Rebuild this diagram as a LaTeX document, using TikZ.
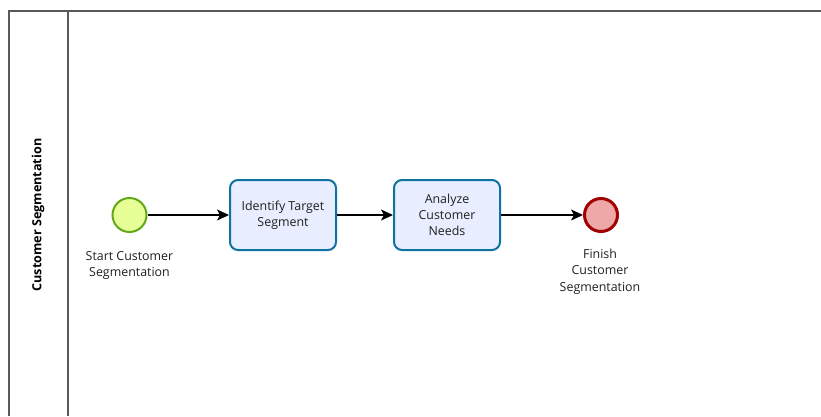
\documentclass[tikz,border=0pt]{standalone}
\usepackage{fontspec}
\setmainfont{Open Sans}
\usetikzlibrary{arrows.meta}
\definecolor{poolline}{HTML}{5A5A5A}
\definecolor{startfill}{HTML}{E6FF97}
\definecolor{startline}{HTML}{62A716}
\definecolor{taskfill}{HTML}{E8EEFF}
\definecolor{taskline}{HTML}{0E73A0}
\definecolor{endfill}{HTML}{EEA8A8}
\definecolor{endline}{HTML}{A10000}
\definecolor{labeltext}{HTML}{202020}
\tikzset{
  pool/.style={draw=poolline, line width=1.5pt},
  startevent/.style={circle, draw=startline, fill=startfill, line width=2pt,
    minimum size=34pt, inner sep=0pt},
  endevent/.style={circle, draw=endline, fill=endfill, line width=3pt,
    minimum size=33pt, inner sep=0pt},
  task/.style={draw=taskline, fill=taskfill, line width=2pt, rounded corners=8pt,
    minimum width=106pt, minimum height=70pt, inner sep=2pt, align=center,
    font=\fontsize{12.4}{16.3}\selectfont, text=labeltext},
  evlabel/.style={align=center, font=\fontsize{12.4}{16.3}\selectfont, text=labeltext,
    inner sep=0pt},
  flow/.style={draw=black, line width=1.1pt,
    -{Stealth[length=12pt,width=11pt,inset=3pt]}},
}
\begin{document}
\begin{tikzpicture}[x=1pt, y=-1pt]
  \useasboundingbox (0,0) rectangle (821,416);
  % pool and lane header
  \draw[pool] (9,416) -- (9,11) -- (821,11);
  \draw[pool] (68,11) -- (68,416);
  \node[rotate=90, font=\bfseries\fontsize{12.6}{14}\selectfont, text=black]
    (lanetitle) at (38,215) {Customer Segmentation};
  % flow elements
  \node[startevent] (start) at (129.5,215) {};
  \node[task] (identify) at (283,215) {Identify Target\\Segment};
  \node[task] (analyze) at (447,215) {Analyze\\Customer\\Needs};
  \node[endevent] (finish) at (601,215) {};
  \node[evlabel, anchor=north] (startlabel) at (129.5,251)
    {Start Customer\\Segmentation};
  \node[evlabel, anchor=north] (finishlabel) at (600,249)
    {Finish\\Customer\\Segmentation};
  % sequence flows
  \draw[flow] (start) -- (identify);
  \draw[flow] (identify) -- (analyze);
  \draw[flow] (analyze) -- (finish);
\end{tikzpicture}
\end{document}
